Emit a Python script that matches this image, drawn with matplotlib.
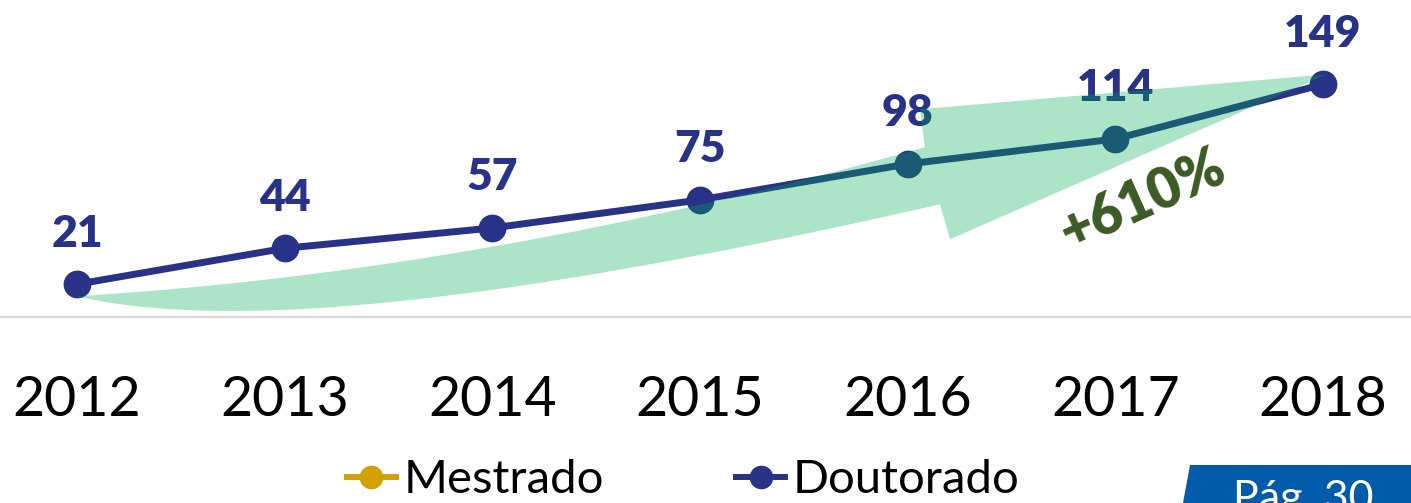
import matplotlib
matplotlib.use('Agg')
import matplotlib.pyplot as plt
from matplotlib.path import Path
from matplotlib.patches import PathPatch, Polygon
from matplotlib.lines import Line2D

# ── Data ──────────────────────────────────────────────────────────────────────
years      = ['2012', '2013', '2014', '2015', '2016', '2017', '2018']
doutorado  = [21, 44, 57, 75, 98, 114, 149]
mestrado   = []          # series in legend only, no visible points
growth_txt = '+610%'
page_txt   = 'Pág. 30'

# ── Style ─────────────────────────────────────────────────────────────────────
NAVY   = '#283287'
GOLD   = '#D4A000'
GREEN  = '#00AD52'
OLIVE  = '#3B5A24'
PAGE   = '#005BAA'
FONT   = 'Lato'

plt.rcParams['font.family'] = [FONT, 'DejaVu Sans']

fig = plt.figure(figsize=(14.11, 5.03), dpi=100)
ax = fig.add_axes([0, 1 - 317 / 503, 1, 317 / 503])

x = list(range(len(years)))
ax.plot(x, doutorado, color=NAVY, lw=5.0, marker='o', ms=19,
        solid_capstyle='round', zorder=3, label='Doutorado')
ax.plot(mestrado, mestrado, color=GOLD, lw=5.0, marker='o', ms=19,
        label='Mestrado')

for xi, v in zip(x, doutorado):
    ax.annotate(str(v), (xi, v), xytext=(0, 27), textcoords='offset points',
                ha='center', va='baseline', fontsize=32, fontweight='heavy',
                color=NAVY, zorder=4)

ax.set_xlim(-0.371, 6.424)
ax.set_ylim(0, 203)
ax.set_xticks(x)
ax.set_xticklabels(years, fontsize=40)
ax.tick_params(axis='x', length=0, pad=42)
ax.set_yticks([])
for s in ['top', 'left', 'right']:
    ax.spines[s].set_visible(False)
ax.spines['bottom'].set_color('#D9D9D9')
ax.spines['bottom'].set_linewidth(1.6)
ax.patch.set_alpha(0)

# ── Curved growth arrow (decorative overlay, data coords) ────────────────────
verts = [
    (0.00, 13.3),                                   # tail
    (1.96, 29.0), (4.083, 108.7),                   # upper shaft edge
    (4.059, 133.0),                                 # upper barb
    (6.02, 155.4),                                  # tip
    (4.204, 49.8),                                  # lower barb
    (4.156, 72.2),                                  # lower notch
    (2.60, 25.0), (0.90, -15.0), (0.00, 13.3),      # lower shaft edge
    (0.00, 13.3),
]
codes = [Path.MOVETO,
         Path.CURVE3, Path.CURVE3,
         Path.LINETO, Path.LINETO, Path.LINETO, Path.LINETO,
         Path.CURVE4, Path.CURVE4, Path.CURVE4,
         Path.CLOSEPOLY]
arrow = PathPatch(Path(verts, codes), facecolor=GREEN, alpha=0.33,
                  edgecolor='none', zorder=5, clip_on=False)
ax.add_patch(arrow)

ax.text(5.13, 75, growth_txt, rotation=24, ha='center', va='center',
        fontsize=40, fontweight='heavy', color=OLIVE, zorder=6)

# ── Legend ───────────────────────────────────────────────────────────────────
handles = [
    Line2D([], [], color=GOLD, lw=4.3, marker='o', ms=16),
    Line2D([], [], color=NAVY, lw=4.3, marker='o', ms=16),
]
fig.legend(handles, ['Mestrado', 'Doutorado'], loc='center',
           bbox_to_anchor=(0.484, 0.045), ncol=2, frameon=False,
           fontsize=34, handlelength=1.05, handletextpad=0.15,
           columnspacing=2.8, borderpad=0)

# ── Page tag ─────────────────────────────────────────────────────────────────
W, H = 1411, 503
tag = Polygon([(1190 / W, 1 - 465 / H), (1, 1 - 465 / H), (1, 0),
               (1183 / W, 0)], closed=True, transform=fig.transFigure,
              facecolor=PAGE, edgecolor='none')
fig.patches.append(tag)
fig.text(1233 / W, 1 - 480 / H, page_txt, ha='left', va='top',
         fontsize=31, color='white')

fig.savefig('out.png', dpi=100)
